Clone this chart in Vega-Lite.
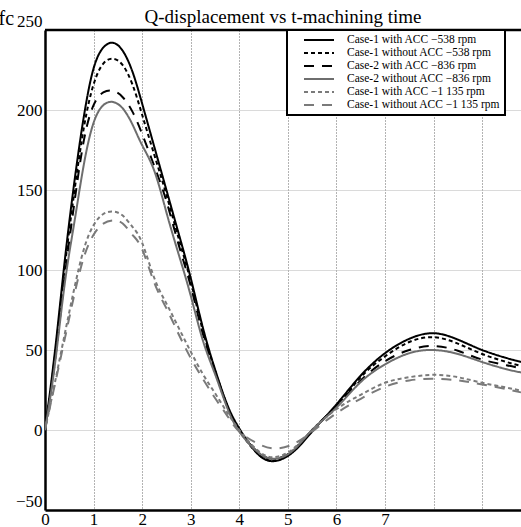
{
  "$schema": "https://vega.github.io/schema/vega-lite/v6.json",
  "width": 476,
  "height": 480,
  "autosize": {"type": "none"},
  "padding": {"left": 45, "top": 30, "right": 0, "bottom": 17},
  "background": "white",
  "config": {
    "view": {"stroke": null},
    "font": "Liberation Serif",
    "legend": {"strokeWidth": 2}
  },
  "title": {
    "text": "Q-displacement vs t-machining time",
    "font": "Liberation Serif",
    "fontSize": 19,
    "fontWeight": "normal",
    "color": "black",
    "anchor": "middle",
    "frame": "group",
    "offset": 5,
    "dy": 24
  },
  "datasets": {
    "curves": [
      {"s": "Case-1 with ACC −538 rpm", "t": 0, "v": 0},
      {"s": "Case-1 with ACC −538 rpm", "t": 0.2, "v": 48},
      {"s": "Case-1 with ACC −538 rpm", "t": 0.4, "v": 104},
      {"s": "Case-1 with ACC −538 rpm", "t": 0.6, "v": 154},
      {"s": "Case-1 with ACC −538 rpm", "t": 0.8, "v": 196},
      {"s": "Case-1 with ACC −538 rpm", "t": 1.0, "v": 226},
      {"s": "Case-1 with ACC −538 rpm", "t": 1.2, "v": 239},
      {"s": "Case-1 with ACC −538 rpm", "t": 1.4, "v": 242},
      {"s": "Case-1 with ACC −538 rpm", "t": 1.6, "v": 237},
      {"s": "Case-1 with ACC −538 rpm", "t": 1.8, "v": 224},
      {"s": "Case-1 with ACC −538 rpm", "t": 2.0, "v": 204},
      {"s": "Case-1 with ACC −538 rpm", "t": 2.25, "v": 177},
      {"s": "Case-1 with ACC −538 rpm", "t": 2.5, "v": 150},
      {"s": "Case-1 with ACC −538 rpm", "t": 2.75, "v": 123},
      {"s": "Case-1 with ACC −538 rpm", "t": 3.0, "v": 95},
      {"s": "Case-1 with ACC −538 rpm", "t": 3.25, "v": 64},
      {"s": "Case-1 with ACC −538 rpm", "t": 3.5, "v": 38},
      {"s": "Case-1 with ACC −538 rpm", "t": 3.75, "v": 16},
      {"s": "Case-1 with ACC −538 rpm", "t": 4.0, "v": 1},
      {"s": "Case-1 with ACC −538 rpm", "t": 4.35, "v": -14},
      {"s": "Case-1 with ACC −538 rpm", "t": 4.7, "v": -19.5},
      {"s": "Case-1 with ACC −538 rpm", "t": 5.1, "v": -14},
      {"s": "Case-1 with ACC −538 rpm", "t": 5.5, "v": -1},
      {"s": "Case-1 with ACC −538 rpm", "t": 6.0, "v": 16},
      {"s": "Case-1 with ACC −538 rpm", "t": 6.5, "v": 34},
      {"s": "Case-1 with ACC −538 rpm", "t": 7.0, "v": 48},
      {"s": "Case-1 with ACC −538 rpm", "t": 7.5, "v": 57},
      {"s": "Case-1 with ACC −538 rpm", "t": 8.0, "v": 60.5},
      {"s": "Case-1 with ACC −538 rpm", "t": 8.5, "v": 56.5},
      {"s": "Case-1 with ACC −538 rpm", "t": 9.0, "v": 50},
      {"s": "Case-1 with ACC −538 rpm", "t": 9.5, "v": 45},
      {"s": "Case-1 with ACC −538 rpm", "t": 9.8, "v": 42.5},

      {"s": "Case-1 without ACC −538 rpm", "t": 0, "v": 0},
      {"s": "Case-1 without ACC −538 rpm", "t": 0.2, "v": 45},
      {"s": "Case-1 without ACC −538 rpm", "t": 0.4, "v": 100},
      {"s": "Case-1 without ACC −538 rpm", "t": 0.6, "v": 148},
      {"s": "Case-1 without ACC −538 rpm", "t": 0.8, "v": 189},
      {"s": "Case-1 without ACC −538 rpm", "t": 1.0, "v": 216},
      {"s": "Case-1 without ACC −538 rpm", "t": 1.2, "v": 229},
      {"s": "Case-1 without ACC −538 rpm", "t": 1.4, "v": 232},
      {"s": "Case-1 without ACC −538 rpm", "t": 1.6, "v": 228},
      {"s": "Case-1 without ACC −538 rpm", "t": 1.8, "v": 216},
      {"s": "Case-1 without ACC −538 rpm", "t": 2.0, "v": 197},
      {"s": "Case-1 without ACC −538 rpm", "t": 2.25, "v": 172},
      {"s": "Case-1 without ACC −538 rpm", "t": 2.5, "v": 147},
      {"s": "Case-1 without ACC −538 rpm", "t": 2.75, "v": 120},
      {"s": "Case-1 without ACC −538 rpm", "t": 3.0, "v": 93},
      {"s": "Case-1 without ACC −538 rpm", "t": 3.25, "v": 62},
      {"s": "Case-1 without ACC −538 rpm", "t": 3.5, "v": 37},
      {"s": "Case-1 without ACC −538 rpm", "t": 3.75, "v": 15},
      {"s": "Case-1 without ACC −538 rpm", "t": 4.0, "v": 0},
      {"s": "Case-1 without ACC −538 rpm", "t": 4.35, "v": -14},
      {"s": "Case-1 without ACC −538 rpm", "t": 4.7, "v": -19},
      {"s": "Case-1 without ACC −538 rpm", "t": 5.1, "v": -13},
      {"s": "Case-1 without ACC −538 rpm", "t": 5.5, "v": 0},
      {"s": "Case-1 without ACC −538 rpm", "t": 6.0, "v": 15},
      {"s": "Case-1 without ACC −538 rpm", "t": 6.5, "v": 33},
      {"s": "Case-1 without ACC −538 rpm", "t": 7.0, "v": 46},
      {"s": "Case-1 without ACC −538 rpm", "t": 7.5, "v": 55},
      {"s": "Case-1 without ACC −538 rpm", "t": 8.0, "v": 58},
      {"s": "Case-1 without ACC −538 rpm", "t": 8.5, "v": 54},
      {"s": "Case-1 without ACC −538 rpm", "t": 9.0, "v": 47.5},
      {"s": "Case-1 without ACC −538 rpm", "t": 9.5, "v": 42.5},
      {"s": "Case-1 without ACC −538 rpm", "t": 9.8, "v": 40},

      {"s": "Case-2 with ACC −836 rpm", "t": 0, "v": 0},
      {"s": "Case-2 with ACC −836 rpm", "t": 0.2, "v": 42},
      {"s": "Case-2 with ACC −836 rpm", "t": 0.4, "v": 94},
      {"s": "Case-2 with ACC −836 rpm", "t": 0.6, "v": 141},
      {"s": "Case-2 with ACC −836 rpm", "t": 0.8, "v": 181},
      {"s": "Case-2 with ACC −836 rpm", "t": 1.0, "v": 203},
      {"s": "Case-2 with ACC −836 rpm", "t": 1.2, "v": 211},
      {"s": "Case-2 with ACC −836 rpm", "t": 1.4, "v": 212},
      {"s": "Case-2 with ACC −836 rpm", "t": 1.6, "v": 208},
      {"s": "Case-2 with ACC −836 rpm", "t": 1.8, "v": 199},
      {"s": "Case-2 with ACC −836 rpm", "t": 2.0, "v": 185},
      {"s": "Case-2 with ACC −836 rpm", "t": 2.25, "v": 165},
      {"s": "Case-2 with ACC −836 rpm", "t": 2.5, "v": 143},
      {"s": "Case-2 with ACC −836 rpm", "t": 2.75, "v": 116},
      {"s": "Case-2 with ACC −836 rpm", "t": 3.0, "v": 90},
      {"s": "Case-2 with ACC −836 rpm", "t": 3.25, "v": 60},
      {"s": "Case-2 with ACC −836 rpm", "t": 3.5, "v": 37},
      {"s": "Case-2 with ACC −836 rpm", "t": 3.75, "v": 15},
      {"s": "Case-2 with ACC −836 rpm", "t": 4.0, "v": 0},
      {"s": "Case-2 with ACC −836 rpm", "t": 4.35, "v": -13},
      {"s": "Case-2 with ACC −836 rpm", "t": 4.7, "v": -18},
      {"s": "Case-2 with ACC −836 rpm", "t": 5.1, "v": -13},
      {"s": "Case-2 with ACC −836 rpm", "t": 5.5, "v": 0},
      {"s": "Case-2 with ACC −836 rpm", "t": 6.0, "v": 15},
      {"s": "Case-2 with ACC −836 rpm", "t": 6.5, "v": 31},
      {"s": "Case-2 with ACC −836 rpm", "t": 7.0, "v": 43},
      {"s": "Case-2 with ACC −836 rpm", "t": 7.5, "v": 50},
      {"s": "Case-2 with ACC −836 rpm", "t": 8.0, "v": 52.5},
      {"s": "Case-2 with ACC −836 rpm", "t": 8.5, "v": 49.5},
      {"s": "Case-2 with ACC −836 rpm", "t": 9.0, "v": 44},
      {"s": "Case-2 with ACC −836 rpm", "t": 9.5, "v": 40.5},
      {"s": "Case-2 with ACC −836 rpm", "t": 9.8, "v": 38.5},

      {"s": "Case-2 without ACC −836 rpm", "t": 0, "v": 0},
      {"s": "Case-2 without ACC −836 rpm", "t": 0.2, "v": 40},
      {"s": "Case-2 without ACC −836 rpm", "t": 0.4, "v": 90},
      {"s": "Case-2 without ACC −836 rpm", "t": 0.6, "v": 129},
      {"s": "Case-2 without ACC −836 rpm", "t": 0.8, "v": 166},
      {"s": "Case-2 without ACC −836 rpm", "t": 1.0, "v": 192},
      {"s": "Case-2 without ACC −836 rpm", "t": 1.2, "v": 203},
      {"s": "Case-2 without ACC −836 rpm", "t": 1.4, "v": 205},
      {"s": "Case-2 without ACC −836 rpm", "t": 1.6, "v": 201},
      {"s": "Case-2 without ACC −836 rpm", "t": 1.8, "v": 191},
      {"s": "Case-2 without ACC −836 rpm", "t": 2.0, "v": 178},
      {"s": "Case-2 without ACC −836 rpm", "t": 2.25, "v": 162},
      {"s": "Case-2 without ACC −836 rpm", "t": 2.5, "v": 136},
      {"s": "Case-2 without ACC −836 rpm", "t": 2.75, "v": 110},
      {"s": "Case-2 without ACC −836 rpm", "t": 3.0, "v": 84},
      {"s": "Case-2 without ACC −836 rpm", "t": 3.25, "v": 56},
      {"s": "Case-2 without ACC −836 rpm", "t": 3.5, "v": 35},
      {"s": "Case-2 without ACC −836 rpm", "t": 3.75, "v": 14},
      {"s": "Case-2 without ACC −836 rpm", "t": 4.0, "v": -1},
      {"s": "Case-2 without ACC −836 rpm", "t": 4.35, "v": -13},
      {"s": "Case-2 without ACC −836 rpm", "t": 4.7, "v": -18},
      {"s": "Case-2 without ACC −836 rpm", "t": 5.1, "v": -13},
      {"s": "Case-2 without ACC −836 rpm", "t": 5.5, "v": 0},
      {"s": "Case-2 without ACC −836 rpm", "t": 6.0, "v": 14},
      {"s": "Case-2 without ACC −836 rpm", "t": 6.5, "v": 30},
      {"s": "Case-2 without ACC −836 rpm", "t": 7.0, "v": 41},
      {"s": "Case-2 without ACC −836 rpm", "t": 7.5, "v": 48},
      {"s": "Case-2 without ACC −836 rpm", "t": 8.0, "v": 50},
      {"s": "Case-2 without ACC −836 rpm", "t": 8.5, "v": 47.5},
      {"s": "Case-2 without ACC −836 rpm", "t": 9.0, "v": 42.5},
      {"s": "Case-2 without ACC −836 rpm", "t": 9.5, "v": 38},
      {"s": "Case-2 without ACC −836 rpm", "t": 9.8, "v": 36},

      {"s": "Case-1 with ACC −1 135 rpm", "t": 0, "v": 0},
      {"s": "Case-1 with ACC −1 135 rpm", "t": 0.2, "v": 29},
      {"s": "Case-1 with ACC −1 135 rpm", "t": 0.4, "v": 59},
      {"s": "Case-1 with ACC −1 135 rpm", "t": 0.6, "v": 88},
      {"s": "Case-1 with ACC −1 135 rpm", "t": 0.8, "v": 113},
      {"s": "Case-1 with ACC −1 135 rpm", "t": 1.0, "v": 128},
      {"s": "Case-1 with ACC −1 135 rpm", "t": 1.2, "v": 135},
      {"s": "Case-1 with ACC −1 135 rpm", "t": 1.4, "v": 136.5},
      {"s": "Case-1 with ACC −1 135 rpm", "t": 1.6, "v": 134},
      {"s": "Case-1 with ACC −1 135 rpm", "t": 1.8, "v": 127},
      {"s": "Case-1 with ACC −1 135 rpm", "t": 2.0, "v": 117},
      {"s": "Case-1 with ACC −1 135 rpm", "t": 2.25, "v": 95},
      {"s": "Case-1 with ACC −1 135 rpm", "t": 2.5, "v": 79},
      {"s": "Case-1 with ACC −1 135 rpm", "t": 2.75, "v": 64},
      {"s": "Case-1 with ACC −1 135 rpm", "t": 3.0, "v": 49},
      {"s": "Case-1 with ACC −1 135 rpm", "t": 3.25, "v": 35},
      {"s": "Case-1 with ACC −1 135 rpm", "t": 3.5, "v": 23},
      {"s": "Case-1 with ACC −1 135 rpm", "t": 3.75, "v": 11},
      {"s": "Case-1 with ACC −1 135 rpm", "t": 4.0, "v": 0},
      {"s": "Case-1 with ACC −1 135 rpm", "t": 4.35, "v": -12},
      {"s": "Case-1 with ACC −1 135 rpm", "t": 4.7, "v": -17},
      {"s": "Case-1 with ACC −1 135 rpm", "t": 5.1, "v": -12},
      {"s": "Case-1 with ACC −1 135 rpm", "t": 5.5, "v": 0},
      {"s": "Case-1 with ACC −1 135 rpm", "t": 6.0, "v": 13},
      {"s": "Case-1 with ACC −1 135 rpm", "t": 6.5, "v": 22},
      {"s": "Case-1 with ACC −1 135 rpm", "t": 7.0, "v": 29.5},
      {"s": "Case-1 with ACC −1 135 rpm", "t": 7.5, "v": 33},
      {"s": "Case-1 with ACC −1 135 rpm", "t": 8.0, "v": 34.5},
      {"s": "Case-1 with ACC −1 135 rpm", "t": 8.5, "v": 33},
      {"s": "Case-1 with ACC −1 135 rpm", "t": 9.0, "v": 29.5},
      {"s": "Case-1 with ACC −1 135 rpm", "t": 9.5, "v": 26.5},
      {"s": "Case-1 with ACC −1 135 rpm", "t": 9.8, "v": 24.6},

      {"s": "Case-1 without ACC −1 135 rpm", "t": 0, "v": 0},
      {"s": "Case-1 without ACC −1 135 rpm", "t": 0.2, "v": 28},
      {"s": "Case-1 without ACC −1 135 rpm", "t": 0.4, "v": 56},
      {"s": "Case-1 without ACC −1 135 rpm", "t": 0.6, "v": 84},
      {"s": "Case-1 without ACC −1 135 rpm", "t": 0.8, "v": 108},
      {"s": "Case-1 without ACC −1 135 rpm", "t": 1.0, "v": 122},
      {"s": "Case-1 without ACC −1 135 rpm", "t": 1.2, "v": 129},
      {"s": "Case-1 without ACC −1 135 rpm", "t": 1.4, "v": 131},
      {"s": "Case-1 without ACC −1 135 rpm", "t": 1.6, "v": 129},
      {"s": "Case-1 without ACC −1 135 rpm", "t": 1.8, "v": 122},
      {"s": "Case-1 without ACC −1 135 rpm", "t": 2.0, "v": 113},
      {"s": "Case-1 without ACC −1 135 rpm", "t": 2.25, "v": 92},
      {"s": "Case-1 without ACC −1 135 rpm", "t": 2.5, "v": 76},
      {"s": "Case-1 without ACC −1 135 rpm", "t": 2.75, "v": 60},
      {"s": "Case-1 without ACC −1 135 rpm", "t": 3.0, "v": 45},
      {"s": "Case-1 without ACC −1 135 rpm", "t": 3.25, "v": 32},
      {"s": "Case-1 without ACC −1 135 rpm", "t": 3.5, "v": 20},
      {"s": "Case-1 without ACC −1 135 rpm", "t": 3.75, "v": 9},
      {"s": "Case-1 without ACC −1 135 rpm", "t": 4.0, "v": -1},
      {"s": "Case-1 without ACC −1 135 rpm", "t": 4.35, "v": -8},
      {"s": "Case-1 without ACC −1 135 rpm", "t": 4.7, "v": -11.5},
      {"s": "Case-1 without ACC −1 135 rpm", "t": 5.1, "v": -9},
      {"s": "Case-1 without ACC −1 135 rpm", "t": 5.5, "v": -1},
      {"s": "Case-1 without ACC −1 135 rpm", "t": 6.0, "v": 10.5},
      {"s": "Case-1 without ACC −1 135 rpm", "t": 6.5, "v": 19.5},
      {"s": "Case-1 without ACC −1 135 rpm", "t": 7.0, "v": 27},
      {"s": "Case-1 without ACC −1 135 rpm", "t": 7.5, "v": 31},
      {"s": "Case-1 without ACC −1 135 rpm", "t": 8.0, "v": 32},
      {"s": "Case-1 without ACC −1 135 rpm", "t": 8.5, "v": 31},
      {"s": "Case-1 without ACC −1 135 rpm", "t": 9.0, "v": 28.5},
      {"s": "Case-1 without ACC −1 135 rpm", "t": 9.5, "v": 25.5},
      {"s": "Case-1 without ACC −1 135 rpm", "t": 9.8, "v": 23.5}
    ],
    "border": [{"top": 250}]
  },
  "layer": [
    {
      "data": {"name": "curves"},
      "mark": {"type": "line", "interpolate": "natural", "strokeWidth": 2, "clip": true},
      "encoding": {
        "x": {
          "field": "t",
          "type": "quantitative",
          "scale": {"domain": [0, 9.8], "nice": false, "zero": false},
          "axis": {
            "title": null,
            "values": [0, 1, 2, 3, 4, 5, 6, 7, 8, 9],
            "labelExpr": "datum.value <= 7 ? datum.label : ''",
            "labelFont": "Liberation Serif",
            "labelFontSize": 17,
            "labelColor": "black",
            "labelPadding": 1,
            "labelFlush": false,
            "ticks": false,
            "domainColor": "black",
            "domainWidth": 2.5,
            "grid": true,
            "gridColor": "#666666",
            "gridDash": [1, 2],
            "gridWidth": 1
          }
        },
        "y": {
          "field": "v",
          "type": "quantitative",
          "scale": {"domain": [-50, 250], "nice": false, "zero": false},
          "axis": {
            "title": "fc",
            "titleAngle": 0,
            "titleFont": "Liberation Serif",
            "titleFontSize": 20,
            "titleFontWeight": "normal",
            "titleColor": "black",
            "titleAlign": "left",
            "titleBaseline": "alphabetic",
            "titleX": -47,
            "titleY": -6,
            "values": [-50, 0, 50, 100, 150, 200, 250],
            "labelFont": "Liberation Serif",
            "labelFontSize": 17,
            "labelColor": "black",
            "labelPadding": 3,
            "labelFlush": false,
            "labelBaseline": {"condition": {"test": "datum.value == 250 || datum.value == -50", "value": "bottom"}, "value": "middle"},
            "ticks": false,
            "domainColor": "black",
            "domainWidth": 2.5,
            "grid": true,
            "gridColor": "#b5b5b5",
            "gridDash": [1, 1],
            "gridWidth": 1
          }
        },
        "color": {
          "field": "s",
          "type": "nominal",
          "scale": {
            "domain": ["Case-1 with ACC −538 rpm", "Case-1 without ACC −538 rpm", "Case-2 with ACC −836 rpm", "Case-2 without ACC −836 rpm", "Case-1 with ACC −1 135 rpm", "Case-1 without ACC −1 135 rpm"],
            "range": ["#000000", "#000000", "#000000", "#6e6e6e", "#7a7a7a", "#7a7a7a"]
          },
          "legend": {
            "title": null,
            "orient": "none",
            "legendX": 242,
            "legendY": 0,
            "strokeColor": "black",
            "fillColor": "white",
            "padding": 4,
            "symbolType": "M-3,0H3",
            "symbolSize": 100,
            "symbolStrokeWidth": 2,
            "symbolOffset": 22,
            "labelFont": "Liberation Serif",
            "labelFontSize": 11.5,
            "labelColor": "black",
            "labelOffset": 22,
            "labelLimit": 400,
            "rowPadding": 1
          }
        },
        "strokeDash": {
          "field": "s",
          "type": "nominal",
          "scale": {
            "domain": ["Case-1 with ACC −538 rpm", "Case-1 without ACC −538 rpm", "Case-2 with ACC −836 rpm", "Case-2 without ACC −836 rpm", "Case-1 with ACC −1 135 rpm", "Case-1 without ACC −1 135 rpm"],
            "range": [[1, 0], [4, 3], [10, 8], [1, 0], [4, 3], [10, 8]]
          },
          "legend": {
            "title": null,
            "orient": "none",
            "legendX": 242,
            "legendY": 0
          }
        }
      }
    },
    {
      "data": {"name": "border"},
      "mark": {"type": "rule", "color": "black", "strokeWidth": 2.5},
      "encoding": {
        "y": {"field": "top", "type": "quantitative"}
      }
    }
  ]
}
